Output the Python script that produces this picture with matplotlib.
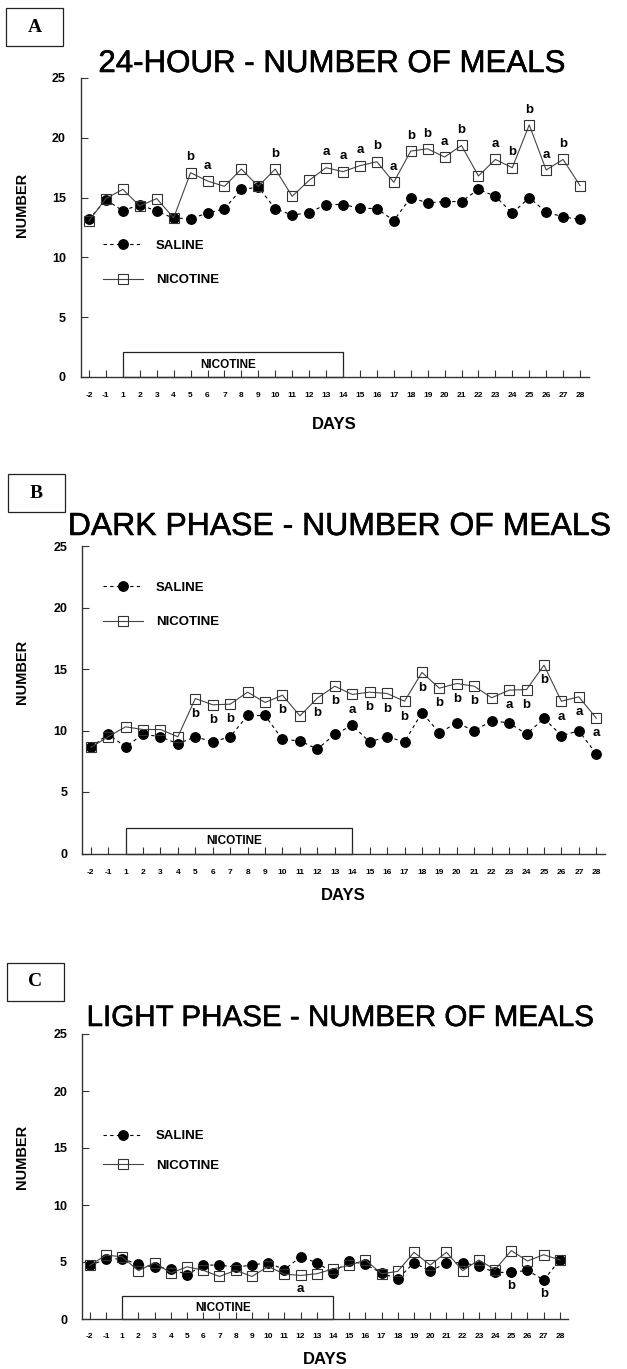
import numpy as np
import matplotlib
matplotlib.use('Agg')
import matplotlib.pyplot as plt
import matplotlib.patheffects as pe
from matplotlib.patches import Rectangle
from matplotlib.lines import Line2D

plt.rcParams['font.family'] = ['Liberation Sans', 'DejaVu Sans']

days = ['-2', '-1'] + [str(d) for d in range(1, 29)]

# 24-hour
saline_24h = [13.17, 14.83, 13.89, 14.42, 13.86, 13.28, 13.25, 13.69, 14.08, 15.69,
              15.86, 14.08, 13.53, 13.75, 14.42, 14.42, 14.11, 14.08, 13.08, 15.0,
              14.56, 14.67, 14.67, 15.69, 15.11, 13.69, 15.0, 13.78, 13.39, 13.17]
nicotine_24h = [13.06, 14.92, 15.69, 14.3, 14.92, 13.3, 17.08, 16.39, 15.94, 17.39,
                15.94, 17.39, 15.11, 16.44, 17.5, 17.17, 17.67, 18.0, 16.28, 18.89,
                19.08, 18.39, 19.36, 16.81, 18.19, 17.5, 21.08, 17.31, 18.19, 16.0]
letters_24h = [('5', 'b'), ('6', 'a'), ('10', 'b'), ('13', 'a'), ('14', 'a'), ('15', 'a'),
               ('16', 'b'), ('17', 'a'), ('18', 'b'), ('19', 'b'), ('20', 'a'), ('21', 'b'),
               ('23', 'a'), ('24', 'b'), ('25', 'b'), ('26', 'a'), ('27', 'b')]

# dark phase
saline_dark = [8.62, 9.70, 8.67, 9.70, 9.49, 8.92, 9.49, 9.08, 9.49, 11.22,
               11.22, 9.27, 9.16, 8.48, 9.70, 10.41, 9.08, 9.49, 9.08, 11.46,
               9.81, 10.62, 9.97, 10.79, 10.62, 9.70, 10.98, 9.59, 9.97, 8.10]
nicotine_dark = [8.62, 9.49, 10.30, 10.08, 10.08, 9.49, 12.60, 12.09, 12.14, 13.12,
                 12.28, 12.87, 11.19, 12.63, 13.60, 12.93, 13.12, 13.01, 12.38, 14.72,
                 13.44, 13.82, 13.60, 12.66, 13.28, 13.33, 15.31, 12.38, 12.74, 11.0]
letters_dark = [('5', 'b'), ('6', 'b'), ('7', 'b'), ('10', 'b'), ('12', 'b'), ('13', 'b'),
                ('14', 'a'), ('15', 'b'), ('16', 'b'), ('17', 'b'), ('18', 'b'), ('19', 'b'),
                ('20', 'b'), ('21', 'b'), ('23', 'a'), ('24', 'b'), ('25', 'b'), ('26', 'a'),
                ('27', 'a'), ('28', 'a')]

# light phase
saline_light = [4.70, 5.24, 5.30, 4.79, 4.55, 4.42, 3.88, 4.73, 4.73, 4.55,
                4.73, 4.94, 4.33, 5.45, 4.94, 4.06, 5.09, 4.79, 4.03, 3.52,
                4.94, 4.18, 4.94, 4.94, 4.64, 4.09, 4.09, 4.27, 3.42, 5.18]
nicotine_light = [4.70, 5.61, 5.45, 4.24, 4.94, 4.03, 4.58, 4.27, 3.73, 4.27,
                  3.73, 4.61, 3.94, 3.82, 3.97, 4.39, 4.70, 5.18, 3.97, 4.18,
                  5.85, 4.73, 5.85, 4.24, 5.18, 4.33, 6.0, 5.09, 5.64, 5.18]
letters_light_nic = [('12', 'a')]
letters_light_sal = [('25', 'b'), ('27', 'b')]

W, H = 627, 1369
fig = plt.figure(figsize=(W / 100, H / 100), dpi=100)


def fx(px):
    return px / W


def fy(py):
    return 1 - py / H


def panel(box, letter_box, letter, title, title_xy, title_size,
          saline, nicotine, legend_y, legend_spacing, ylabel_y, days_y, xpad):
    left, top, right, bottom = box
    ax = fig.add_axes([fx(left), fy(bottom), fx(right - left), (bottom - top) / H])

    ax.plot(days, saline, color='black', lw=0.8, ls=(0, (3, 3)),
            marker='o', ms=6.8, mfc='black', mec='black', label='SALINE')
    ax.plot(days, nicotine, color='#444444', lw=0.8, ls='-',
            marker='s', ms=7, mfc='none', mec='#333333', mew=0.8, label='NICOTINE')

    ax.set_xlim(-0.5, len(days) - 0.5)
    ax.set_ylim(0, 25)
    ax.set_yticks([0, 5, 10, 15, 20, 25])
    for s in ['top', 'right']:
        ax.spines[s].set_visible(False)
    for s in ['left', 'bottom']:
        ax.spines[s].set_linewidth(1.0)
        ax.spines[s].set_color('#333333')
    ax.tick_params(axis='x', direction='in', length=5, width=0.8, pad=xpad,
                   labelsize=6, color='#333333')
    ax.tick_params(axis='y', direction='in', length=5, width=0.8, pad=10.5,
                   labelsize=9, color='#333333')
    for t in ax.get_xticklabels() + ax.get_yticklabels():
        t.set_fontweight('bold')

    # nicotine treatment period box
    i0 = days.index('1')
    i1 = days.index('14')
    ax.add_patch(Rectangle((i0, 0), i1 - i0, 2.05, fill=False, lw=0.9,
                           edgecolor='#222222', clip_on=False, zorder=1))
    ax.text((i0 + i1) / 2 - 0.3, 1.0, 'NICOTINE', ha='center', va='center',
            fontsize=8.5, fontweight='bold')

    handles = [Line2D([], [], color='black', lw=0.8, ls=(0, (3, 3)), marker='o',
                      ms=6.8, mfc='black', mec='black'),
               Line2D([], [], color='#444444', lw=0.8, marker='s', ms=7,
                      mfc='none', mec='#333333', mew=0.8)]
    ax.legend(handles, ['SALINE', 'NICOTINE'], loc='center left',
              bbox_to_anchor=(fx(103), fy(legend_y)), bbox_transform=fig.transFigure,
              frameon=False, borderpad=0, borderaxespad=0, handlelength=3.0,
              handletextpad=1.0, labelspacing=legend_spacing,
              prop={'weight': 'bold', 'size': 9.5})

    t = fig.text(fx(title_xy[0]), fy(title_xy[1]), title, ha='center', va='baseline',
                 fontsize=title_size)
    t.set_path_effects([pe.withStroke(linewidth=0.4, foreground='black')])
    fig.text(fx(22), fy(ylabel_y), 'NUMBER', rotation=90, ha='center', va='center',
             fontsize=10.5, fontweight='bold')
    fig.text(fx((left + right) / 2), fy(days_y), 'DAYS', ha='center', va='center',
             fontsize=12, fontweight='bold')

    bl, bt, br, bb = letter_box
    fig.add_artist(Rectangle((fx(bl), fy(bb)), fx(br - bl), (bb - bt) / H,
                             transform=fig.transFigure, fill=False, lw=0.9,
                             edgecolor='#222222'))
    fig.text(fx((bl + br) / 2), fy((bt + bb) / 2), letter, ha='center', va='center',
             fontsize=14, fontweight='bold', family='Liberation Serif')
    return ax


def mark(ax, labels, series, dy):
    for day, txt in labels:
        i = days.index(day)
        ax.annotate(txt, (i, series[i]), xytext=(0, dy), textcoords='offset points',
                    ha='center', va='center', fontsize=9.5, fontweight='bold')


ax_a = panel((80.5, 78, 588.5, 377), (6, 8, 63, 46), 'A',
             '24-HOUR - NUMBER OF MEALS', (332, 72), 22.5,
             saline_24h, nicotine_24h, 263, 1.7, 205, 424, 11)
mark(ax_a, letters_24h, nicotine_24h, 11)

ax_b = panel((82, 546, 605, 853.5), (8, 474, 65, 512), 'B',
             'DARK PHASE - NUMBER OF MEALS', (340, 535), 23,
             saline_dark, nicotine_dark, 605, 1.7, 672, 896, 11)
mark(ax_b, letters_dark, nicotine_dark, -11)

ax_c = panel((81.7, 1034, 568, 1319), (7, 963, 64, 1001), 'C',
             'LIGHT PHASE - NUMBER OF MEALS', (340, 1026), 21.3,
             saline_light, nicotine_light, 1151, 1.3, 1157, 1359, 10)
mark(ax_c, letters_light_nic, nicotine_light, -10)
mark(ax_c, letters_light_sal, saline_light, -10)

fig.savefig('out.png', dpi=100)
